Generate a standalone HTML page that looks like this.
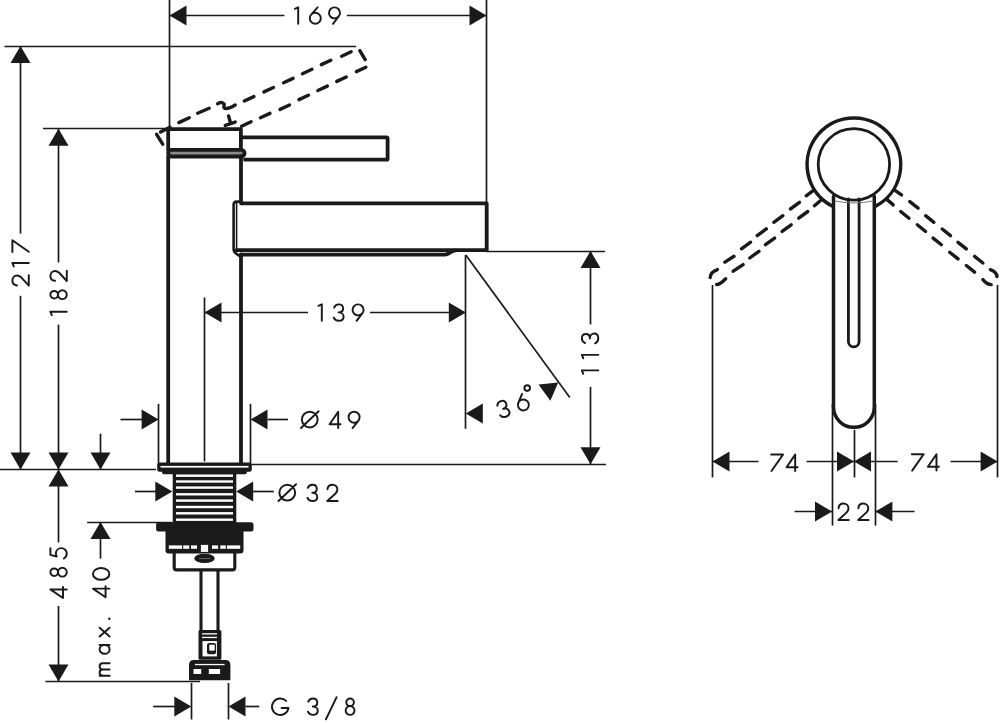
<!DOCTYPE html>
<html><head><meta charset="utf-8"><style>html,body{margin:0;padding:0;background:#fff;width:1000px;height:723px;overflow:hidden;position:relative;font-family:"Liberation Sans",sans-serif}</style></head><body>
<svg width="1000" height="723" viewBox="0 0 1000 723" style="position:absolute;left:0;top:0">
<rect width="1000" height="723" fill="#fff"/>
<g stroke="#1a1a1a" fill="none" stroke-width="1.7">
<line x1="169.5" y1="0" x2="169.5" y2="128"/>
<line x1="486.5" y1="0" x2="486.5" y2="203"/>
<line x1="169.5" y1="15.5" x2="284.4" y2="15.5"/>
<line x1="346.8" y1="15.5" x2="486.5" y2="15.5"/>
<line x1="4.5" y1="46.5" x2="356.2" y2="46.5"/>
<line x1="43" y1="128.5" x2="169.5" y2="128.5"/>
<line x1="20.5" y1="46" x2="20.5" y2="233.6"/>
<line x1="20.5" y1="295.8" x2="20.5" y2="469.5"/>
<line x1="58.5" y1="128.8" x2="58.5" y2="262.4"/>
<line x1="58.5" y1="324.6" x2="58.5" y2="469.5"/>
<line x1="0" y1="469.5" x2="156" y2="469.5"/>
<line x1="58.5" y1="469.5" x2="58.5" y2="542.4"/>
<line x1="58.5" y1="606" x2="58.5" y2="681.6"/>
<line x1="100.5" y1="433.8" x2="100.5" y2="469.5"/>
<line x1="100.5" y1="522.1" x2="100.5" y2="558.6"/>
<line x1="87.2" y1="522.5" x2="172" y2="522.5"/>
<line x1="45.5" y1="681.5" x2="200" y2="681.5"/>
<line x1="204.5" y1="297.5" x2="204.5" y2="461.5"/>
<line x1="465.5" y1="255" x2="465.5" y2="428.8"/>
<line x1="204.2" y1="312.5" x2="308" y2="312.5"/>
<line x1="370" y1="312.5" x2="466" y2="312.5"/>
<line x1="465.8" y1="255" x2="569.8" y2="397.5"/>
<line x1="486.5" y1="251.5" x2="605" y2="251.5"/>
<line x1="250" y1="464.5" x2="606" y2="464.5"/>
<line x1="590.5" y1="251" x2="590.5" y2="324.4"/>
<line x1="590.5" y1="386.8" x2="590.5" y2="464.2"/>
<line x1="158.5" y1="403.8" x2="158.5" y2="463"/>
<line x1="250.5" y1="403.8" x2="250.5" y2="463"/>
<line x1="120.5" y1="419.5" x2="142" y2="419.5"/>
<line x1="267.5" y1="419.5" x2="288" y2="419.5"/>
<line x1="135" y1="491.5" x2="156" y2="491.5"/>
<line x1="252.5" y1="491.5" x2="273.8" y2="491.5"/>
<line x1="191.5" y1="683" x2="191.5" y2="719.5"/>
<line x1="228.5" y1="683" x2="228.5" y2="719.5"/>
<line x1="153.2" y1="706.5" x2="175" y2="706.5"/>
<line x1="245.5" y1="706.5" x2="259.3" y2="706.5"/>
<line x1="712.5" y1="285" x2="712.5" y2="477.4"/>
<line x1="997.5" y1="285" x2="997.5" y2="477.4"/>
<line x1="854.5" y1="429.8" x2="854.5" y2="477.4"/>
<line x1="832.5" y1="404" x2="832.5" y2="525.6"/>
<line x1="875.5" y1="404" x2="875.5" y2="525.6"/>
<line x1="712.5" y1="461.5" x2="758.5" y2="461.5"/>
<line x1="806.5" y1="461.5" x2="854" y2="461.5"/>
<line x1="854" y1="461.5" x2="897.7" y2="461.5"/>
<line x1="950.5" y1="461.5" x2="997.6" y2="461.5"/>
<line x1="794.5" y1="511.5" x2="832" y2="511.5"/>
<line x1="875.4" y1="511.5" x2="914.5" y2="511.5"/>
</g>
<polygon points="169.50,15.50 186.50,5.50 186.50,25.50" stroke="none" fill="#1a1a1a"/>
<polygon points="486.50,15.50 469.50,25.50 469.50,5.50" stroke="none" fill="#1a1a1a"/>
<polygon points="20.50,46.00 30.50,63.00 10.50,63.00" stroke="none" fill="#1a1a1a"/>
<polygon points="20.50,469.50 10.50,452.50 30.50,452.50" stroke="none" fill="#1a1a1a"/>
<polygon points="58.50,128.80 68.50,145.80 48.50,145.80" stroke="none" fill="#1a1a1a"/>
<polygon points="58.50,469.50 48.50,452.50 68.50,452.50" stroke="none" fill="#1a1a1a"/>
<polygon points="58.50,469.60 68.50,486.60 48.50,486.60" stroke="none" fill="#1a1a1a"/>
<polygon points="58.50,681.60 48.50,664.60 68.50,664.60" stroke="none" fill="#1a1a1a"/>
<polygon points="100.50,469.50 90.50,452.50 110.50,452.50" stroke="none" fill="#1a1a1a"/>
<polygon points="100.50,522.10 110.50,539.10 90.50,539.10" stroke="none" fill="#1a1a1a"/>
<polygon points="204.50,312.50 221.50,302.50 221.50,322.50" stroke="none" fill="#1a1a1a"/>
<polygon points="465.80,312.50 448.80,322.50 448.80,302.50" stroke="none" fill="#1a1a1a"/>
<polygon points="590.50,251.00 600.50,268.00 580.50,268.00" stroke="none" fill="#1a1a1a"/>
<polygon points="590.50,464.20 580.50,447.20 600.50,447.20" stroke="none" fill="#1a1a1a"/>
<polygon points="158.60,419.50 141.60,429.50 141.60,409.50" stroke="none" fill="#1a1a1a"/>
<polygon points="250.50,419.50 267.50,409.50 267.50,429.50" stroke="none" fill="#1a1a1a"/>
<polygon points="172.30,491.50 155.30,501.50 155.30,481.50" stroke="none" fill="#1a1a1a"/>
<polygon points="236.20,491.50 253.20,481.50 253.20,501.50" stroke="none" fill="#1a1a1a"/>
<polygon points="191.30,706.50 174.30,716.50 174.30,696.50" stroke="none" fill="#1a1a1a"/>
<polygon points="228.50,706.50 245.50,696.50 245.50,716.50" stroke="none" fill="#1a1a1a"/>
<polygon points="465.80,413.50 482.80,403.50 482.80,423.50" stroke="none" fill="#1a1a1a"/>
<polygon points="558.20,382.60 550.35,400.69 538.57,384.53" stroke="none" fill="#1a1a1a"/>
<polygon points="712.50,461.50 729.50,451.50 729.50,471.50" stroke="none" fill="#1a1a1a"/>
<polygon points="854.00,461.50 837.00,471.50 837.00,451.50" stroke="none" fill="#1a1a1a"/>
<polygon points="854.00,461.50 871.00,451.50 871.00,471.50" stroke="none" fill="#1a1a1a"/>
<polygon points="997.60,461.50 980.60,471.50 980.60,451.50" stroke="none" fill="#1a1a1a"/>
<polygon points="832.00,511.50 815.00,521.50 815.00,501.50" stroke="none" fill="#1a1a1a"/>
<polygon points="875.40,511.50 892.40,501.50 892.40,521.50" stroke="none" fill="#1a1a1a"/>
<g stroke="#1a1a1a" fill="none" stroke-width="1.95" stroke-linecap="round" stroke-linejoin="round">
<path transform="translate(294.80,7.38)" d="M0,1.4 L3.4,0 L3.4,16.4"/>
<path transform="translate(309.78,7.38)" d="M7.8,0 L1.38,7.26 M0,10.9 A5.5,5.5 0 1 0 11,10.9 A5.5,5.5 0 1 0 0,10.9"/>
<path transform="translate(328.98,7.38)" d="M0,5.5 A5.5,5.5 0 1 1 11,5.5 A5.5,5.5 0 1 1 0,5.5 M9.85,8.87 L4,16.4"/>
<path transform="translate(318.40,304.38)" d="M0,1.4 L3.4,0 L3.4,16.4"/>
<path transform="translate(333.78,304.38)" d="M0.3,3.2 C1,1.2 2.8,0 5,0 C7.6,0 9.3,1.8 9.3,4.2 C9.3,6.6 7.5,8 4.8,8 C7.8,8 9.8,10 9.8,12.3 C9.8,14.8 7.8,16.4 5,16.4 C2.6,16.4 0.8,15.2 0,13.2"/>
<path transform="translate(352.58,304.38)" d="M0,5.5 A5.5,5.5 0 1 1 11,5.5 A5.5,5.5 0 1 1 0,5.5 M9.85,8.87 L4,16.4"/>
<path transform="translate(300.98,411.38)" d="M0.9,8.2 A7.9,7.9 0 1 0 16.7,8.2 A7.9,7.9 0 1 0 0.9,8.2 M0,16.6 L17.6,-0.2"/>
<path transform="translate(329.58,411.68)" d="M8.6,16.4 L8.6,0 L0,12.6 L11,12.6"/>
<path transform="translate(348.58,411.68)" d="M0,5.5 A5.5,5.5 0 1 1 11,5.5 A5.5,5.5 0 1 1 0,5.5 M9.85,8.87 L4,16.4"/>
<path transform="translate(278.48,484.48)" d="M0.9,8.2 A7.9,7.9 0 1 0 16.7,8.2 A7.9,7.9 0 1 0 0.9,8.2 M0,16.6 L17.6,-0.2"/>
<path transform="translate(307.48,484.68)" d="M0.3,3.2 C1,1.2 2.8,0 5,0 C7.6,0 9.3,1.8 9.3,4.2 C9.3,6.6 7.5,8 4.8,8 C7.8,8 9.8,10 9.8,12.3 C9.8,14.8 7.8,16.4 5,16.4 C2.6,16.4 0.8,15.2 0,13.2"/>
<path transform="translate(327.28,484.68)" d="M0.2,4.6 C0.4,1.8 2.5,0 5.1,0 C7.9,0 10.1,2 10.1,4.8 C10.1,6.4 9.3,7.6 8.3,8.8 L0,16.4 L10.4,16.4"/>
<path transform="translate(771.18,454.58)" d="M0,0 L11.8,0 L0.3,16.4"/>
<path transform="translate(786.58,454.58)" d="M8.6,16.4 L8.6,0 L0,12.6 L11,12.6"/>
<path transform="translate(911.88,454.18)" d="M0,0 L11.8,0 L0.3,16.4"/>
<path transform="translate(927.88,454.18)" d="M8.6,16.4 L8.6,0 L0,12.6 L11,12.6"/>
<path transform="translate(838.38,503.58)" d="M0.2,4.6 C0.4,1.8 2.5,0 5.1,0 C7.9,0 10.1,2 10.1,4.8 C10.1,6.4 9.3,7.6 8.3,8.8 L0,16.4 L10.4,16.4"/>
<path transform="translate(858.18,503.58)" d="M0.2,4.6 C0.4,1.8 2.5,0 5.1,0 C7.9,0 10.1,2 10.1,4.8 C10.1,6.4 9.3,7.6 8.3,8.8 L0,16.4 L10.4,16.4"/>
<path transform="translate(271.98,698.48)" d="M14.2,2.4 A8.3,8.3 0 1 0 16.5,9.6 L9.6,9.6"/>
<path transform="translate(307.98,698.48)" d="M0.3,3.2 C1,1.2 2.8,0 5,0 C7.6,0 9.3,1.8 9.3,4.2 C9.3,6.6 7.5,8 4.8,8 C7.8,8 9.8,10 9.8,12.3 C9.8,14.8 7.8,16.4 5,16.4 C2.6,16.4 0.8,15.2 0,13.2"/>
<path transform="translate(345.48,698.48)" d="M4.6,0 A3.8,3.8 0 1 0 4.6,7.6 A3.8,3.8 0 1 0 4.6,0 M4.6,7.6 A4.4,4.4 0 1 0 4.6,16.4 A4.4,4.4 0 1 0 4.6,7.6"/>
<path d="M325.9,719.3 L336.6,697.2"/>
<g transform="translate(503.3,409) rotate(-18.5)"><path transform="translate(-4.9,-8.2)" d="M0.3,3.2 C1,1.2 2.8,0 5,0 C7.6,0 9.3,1.8 9.3,4.2 C9.3,6.6 7.5,8 4.8,8 C7.8,8 9.8,10 9.8,12.3 C9.8,14.8 7.8,16.4 5,16.4 C2.6,16.4 0.8,15.2 0,13.2"/><path transform="translate(14.8,-8.4)" d="M7.8,0 L1.38,7.26 M0,10.9 A5.5,5.5 0 1 0 11,10.9 A5.5,5.5 0 1 0 0,10.9"/></g>
<circle cx="527.2" cy="388.1" r="2.8"/>
<path transform="translate(12.38,285.62) rotate(-90)" d="M0.2,4.6 C0.4,1.8 2.5,0 5.1,0 C7.9,0 10.1,2 10.1,4.8 C10.1,6.4 9.3,7.6 8.3,8.8 L0,16.4 L10.4,16.4"/>
<path transform="translate(12.38,266.40) rotate(-90)" d="M0,1.4 L3.4,0 L3.4,16.4"/>
<path transform="translate(12.38,252.12) rotate(-90)" d="M0,0 L11.8,0 L0.3,16.4"/>
<path transform="translate(50.38,315.10) rotate(-90)" d="M0,1.4 L3.4,0 L3.4,16.4"/>
<path transform="translate(50.38,299.32) rotate(-90)" d="M4.6,0 A3.8,3.8 0 1 0 4.6,7.6 A3.8,3.8 0 1 0 4.6,0 M4.6,7.6 A4.4,4.4 0 1 0 4.6,16.4 A4.4,4.4 0 1 0 4.6,7.6"/>
<path transform="translate(50.38,281.02) rotate(-90)" d="M0.2,4.6 C0.4,1.8 2.5,0 5.1,0 C7.9,0 10.1,2 10.1,4.8 C10.1,6.4 9.3,7.6 8.3,8.8 L0,16.4 L10.4,16.4"/>
<path transform="translate(50.38,598.02) rotate(-90)" d="M8.6,16.4 L8.6,0 L0,12.6 L11,12.6"/>
<path transform="translate(50.38,576.82) rotate(-90)" d="M4.6,0 A3.8,3.8 0 1 0 4.6,7.6 A3.8,3.8 0 1 0 4.6,0 M4.6,7.6 A4.4,4.4 0 1 0 4.6,16.4 A4.4,4.4 0 1 0 4.6,7.6"/>
<path transform="translate(50.38,558.52) rotate(-90)" d="M10.2,0 L3.6,0 L2,6.3 C3,5.8 4,5.5 5.2,5.5 C8.2,5.5 10.4,7.9 10.4,10.9 C10.4,14 8,16.4 5,16.4 C2.9,16.4 1.1,15.3 0,13.5"/>
<path transform="translate(581.88,373.80) rotate(-90)" d="M0,1.4 L3.4,0 L3.4,16.4"/>
<path transform="translate(581.88,358.30) rotate(-90)" d="M0,1.4 L3.4,0 L3.4,16.4"/>
<path transform="translate(581.88,343.32) rotate(-90)" d="M0.3,3.2 C1,1.2 2.8,0 5,0 C7.6,0 9.3,1.8 9.3,4.2 C9.3,6.6 7.5,8 4.8,8 C7.8,8 9.8,10 9.8,12.3 C9.8,14.8 7.8,16.4 5,16.4 C2.6,16.4 0.8,15.2 0,13.2"/>
<path transform="translate(92.97,597.23) rotate(-90)" d="M8.6,16.4 L8.6,0 L0,12.6 L11,12.6"/>
<path transform="translate(92.97,579.82) rotate(-90)" d="M5.9,0 A5.9,8.2 0 1 0 5.9,16.4 A5.9,8.2 0 1 0 5.9,0"/>
<g transform="translate(99.6,675.7) rotate(-90)"><path d="M0,10 L0,0 M0,3.2 C0,1.2 1.4,0 3.1,0 C4.9,0 6.25,1.2 6.25,3.2 L6.25,10 M6.25,3.2 C6.25,1.2 7.6,0 9.4,0 C11.1,0 12.5,1.2 12.5,3.2 L12.5,10"/><path transform="translate(21.9,0)" d="M8.8,0 L8.8,10 M8.8,5 A4.4,5 0 1 1 0,5 A4.4,5 0 1 1 8.8,5"/><path transform="translate(39.2,0)" d="M0,0 L8.8,10 M8.8,0 L0,10"/></g>
<circle cx="109.3" cy="618.7" r="1.2" fill="#1a1a1a" stroke="none"/>
</g>
<g stroke="#1a1a1a" fill="none" stroke-width="3.8" stroke-linecap="round" stroke-linejoin="round">
<path d="M168.2,150 L168.2,129.2 L240.9,129.2 L240.9,150"/>
<rect x="168.2" y="149.9" width="76.3" height="6.6" rx="3.2" fill="#8a8a8a" stroke-width="3.9"/>
<path d="M168.2,156.4 L168.2,463"/>
<path d="M241,156.4 L241,201"/>
<path d="M241,254.5 L241,463"/>
<path d="M241,137.4 L386.3,137.4 Q387.6,137.4 387.6,138.7 L387.6,158.4 Q387.6,159.7 386.3,159.7 L245,159.7"/>
<path d="M241,203.3 L486.7,203.3 L486.7,250.2 L236.6,250.2"/>
<path d="M241,254.6 L445,254.6 C449,254.6 451,250.4 456,250.4"/>
<path d="M241,201.6 L236.6,201.6 Q233.6,201.6 233.6,204.8 L233.6,249 Q233.6,252 236.2,253.6 L239.5,256" stroke-width="2.6"/>
<path d="M236.6,203.5 L236.6,250" stroke-width="1.6"/>
</g>
<g fill="#1a1a1a" stroke="none">
<rect x="157.2" y="462.4" width="94.6" height="9.4" rx="2.2"/>
<rect x="162" y="469" width="84.8" height="5.2" rx="2"/>
<rect x="172.7" y="473" width="63.6" height="50"/>
<rect x="156.1" y="522.2" width="97.4" height="9.4" rx="2.5"/>
<rect x="165.5" y="529" width="78" height="24.5" rx="3"/>
</g>
<g fill="#fff" stroke="none">
<rect x="160.5" y="465.9" width="88" height="1.7"/>
<rect x="176" y="474.5" width="57" height="2.4"/>
<rect x="176" y="480.3" width="57" height="2.4"/>
<rect x="176" y="486.4" width="57" height="2.4"/>
<rect x="176" y="493.1" width="57" height="2.4"/>
<rect x="176" y="499.4" width="57" height="2.4"/>
<rect x="176" y="505.8" width="57" height="2.4"/>
<rect x="176" y="512.1" width="57" height="2.4"/>
<rect x="176" y="518.5" width="57" height="2.4"/>
<rect x="168.8" y="545.4" width="13.3" height="3.4"/>
<rect x="183.2" y="545.4" width="6.1" height="3.4"/>
<rect x="191" y="545.4" width="6.0" height="3.4"/>
<rect x="212" y="545.4" width="6.1" height="3.4"/>
<rect x="220.3" y="545.4" width="5.5" height="3.4"/>
<rect x="226.9" y="545.4" width="13.3" height="3.4"/>
<rect x="200.9" y="544.9" width="7.2" height="7"/>
</g>
<g stroke="#1a1a1a" fill="none" stroke-width="3.1" stroke-linejoin="round">
<path d="M174.2,550 L174.2,567.5 Q174.2,569.9 176.6,569.9 L232.4,569.9 Q234.8,569.9 234.8,567.5 L234.8,550"/>
</g>
<ellipse cx="204.5" cy="558.4" rx="10.2" ry="4.7" fill="#1a1a1a"/>
<path d="M199,558.6 L210,558.6" stroke="#777" stroke-width="0.8"/>
<g stroke="#1a1a1a" stroke-width="3.1">
<line x1="201" y1="570" x2="201" y2="631"/><line x1="218" y1="570" x2="218" y2="631"/>
</g>
<rect x="198.5" y="630" width="22.9" height="29.8" rx="1.5" fill="#1a1a1a"/>
<g fill="#fff">
<rect x="202" y="633.2" width="15" height="1.3"/><rect x="202" y="636.8" width="15" height="1.3"/>
<rect x="202.5" y="641.1" width="14.4" height="15.3"/>
</g>
<rect x="207" y="643" width="9" height="11.2" rx="2" fill="#1a1a1a"/>
<rect x="209.3" y="644.7" width="5.4" height="5.9" fill="#fff"/>
<path d="M189,680.3 L189,665 Q189,660 194,660 L225.4,660 Q230.4,660 230.4,665 L230.4,680.3 Z" fill="#1a1a1a"/>
<g fill="#fff"><rect x="194.9" y="663.9" width="29.7" height="1.3"/><rect x="193.5" y="669" width="7.7" height="5"/><rect x="208.8" y="669" width="11.3" height="5"/></g>
<g stroke="#1a1a1a" fill="none" stroke-width="3.4" stroke-linecap="round">
<line x1="178.8" y1="122.6" x2="189.3" y2="117.7"/>
<line x1="197.6" y1="113.2" x2="209.2" y2="108.3"/>
<line x1="341.64" y1="56.21" x2="351.16" y2="51.79"/>
<line x1="321.34" y1="64.61" x2="330.86" y2="60.19"/>
<line x1="302.44" y1="73.71" x2="311.96" y2="69.29"/>
<line x1="283.54" y1="82.81" x2="293.06" y2="78.39"/>
<line x1="263.94" y1="91.91" x2="273.46" y2="87.49"/>
<line x1="244.34" y1="101.01" x2="253.86" y2="96.59"/>
<line x1="356.34" y1="71.61" x2="365.86" y2="67.19"/>
<line x1="336.74" y1="81.41" x2="346.26" y2="76.99"/>
<line x1="317.84" y1="90.51" x2="327.36" y2="86.09"/>
<line x1="298.94" y1="99.61" x2="308.46" y2="95.19"/>
<line x1="280.04" y1="109.41" x2="289.56" y2="104.99"/>
<line x1="260.44" y1="117.81" x2="269.96" y2="113.39"/>
<line x1="241.54" y1="126.21" x2="251.06" y2="121.79"/>
<line x1="359.8" y1="50.6" x2="365.2" y2="59.6"/>
<line x1="156.6" y1="134.3" x2="162.7" y2="144.2"/>
<line x1="160.5" y1="132" x2="170" y2="127.2"/>
<path d="M217.5,103.8 C221,101 225,103 224,106 C223,109 227,110 235.2,105"/>
<path d="M225.3,125.4 L235.2,122.1 M228.6,116 L230.5,122.8"/>
</g>
<g stroke="#1a1a1a" fill="none" stroke-linecap="round">
<path d="M875.60,206.17 A46.8,46.8 0 1 0 831.50,205.79" stroke-width="3.5"/>
<circle cx="853.9" cy="164.4" r="35.7" stroke-width="2.8"/>
<path d="M833.5,196.5 L833.5,407 A20.4,20.4 0 0 0 874.3,407 L874.3,196.5" stroke-width="3.5"/>
<path d="M848.4,199 L848.4,341.6 A5.35,5.35 0 0 0 859.1,341.6 L859.1,199" stroke-width="2.8"/>
<path d="M835,201 Q854,205 873,201" stroke="#777" stroke-width="1"/>
</g>
<g stroke="#1a1a1a" fill="none" stroke-width="3.4" stroke-linecap="round">
<line x1="806.2" y1="195.8" x2="812.8" y2="190.8"/>
<line x1="790.4" y1="209" x2="799.5" y2="202.4"/>
<line x1="773.8" y1="222.3" x2="782.9" y2="215.7"/>
<line x1="757.2" y1="235.6" x2="766.3" y2="228.9"/>
<line x1="741.5" y1="248.8" x2="750.6" y2="242.2"/>
<line x1="724.9" y1="262.1" x2="734" y2="256.3"/>
<line x1="814.4" y1="205.7" x2="820.3" y2="200.7"/>
<line x1="798.7" y1="218.1" x2="807.8" y2="211.5"/>
<line x1="782.1" y1="231.4" x2="791.2" y2="224.8"/>
<line x1="765.5" y1="244.7" x2="774.6" y2="238.1"/>
<line x1="749.8" y1="258" x2="758.9" y2="251.3"/>
<line x1="733.2" y1="271.2" x2="743.1" y2="264.6"/>
<line x1="895.7" y1="190.8" x2="901.5" y2="194.9"/>
<line x1="909.8" y1="201.6" x2="918.1" y2="208.2"/>
<line x1="925.6" y1="215.7" x2="933.9" y2="222.3"/>
<line x1="942.2" y1="229" x2="950.5" y2="235.6"/>
<line x1="958" y1="242.3" x2="966.3" y2="248.9"/>
<line x1="974.6" y1="256.4" x2="982.9" y2="263"/>
<line x1="887.4" y1="199.9" x2="893.2" y2="204.9"/>
<line x1="900.7" y1="211.5" x2="909" y2="218.2"/>
<line x1="917.3" y1="224.8" x2="925.6" y2="231.5"/>
<line x1="933.1" y1="238.1" x2="941.4" y2="244.8"/>
<line x1="949.7" y1="252.2" x2="958" y2="258.9"/>
<line x1="966.3" y1="265.5" x2="974.6" y2="272.1"/>
<path d="M710.2,277.5 Q710.5,272 717.4,269.6"/>
<path d="M716.6,284.5 Q720,284.5 725.7,278.7"/>
<path d="M990.4,269.7 Q996.5,272 997,276.5"/>
<path d="M982.9,279.6 Q987,284.5 991.2,284.6"/>
</g>
</svg>
</body></html>
